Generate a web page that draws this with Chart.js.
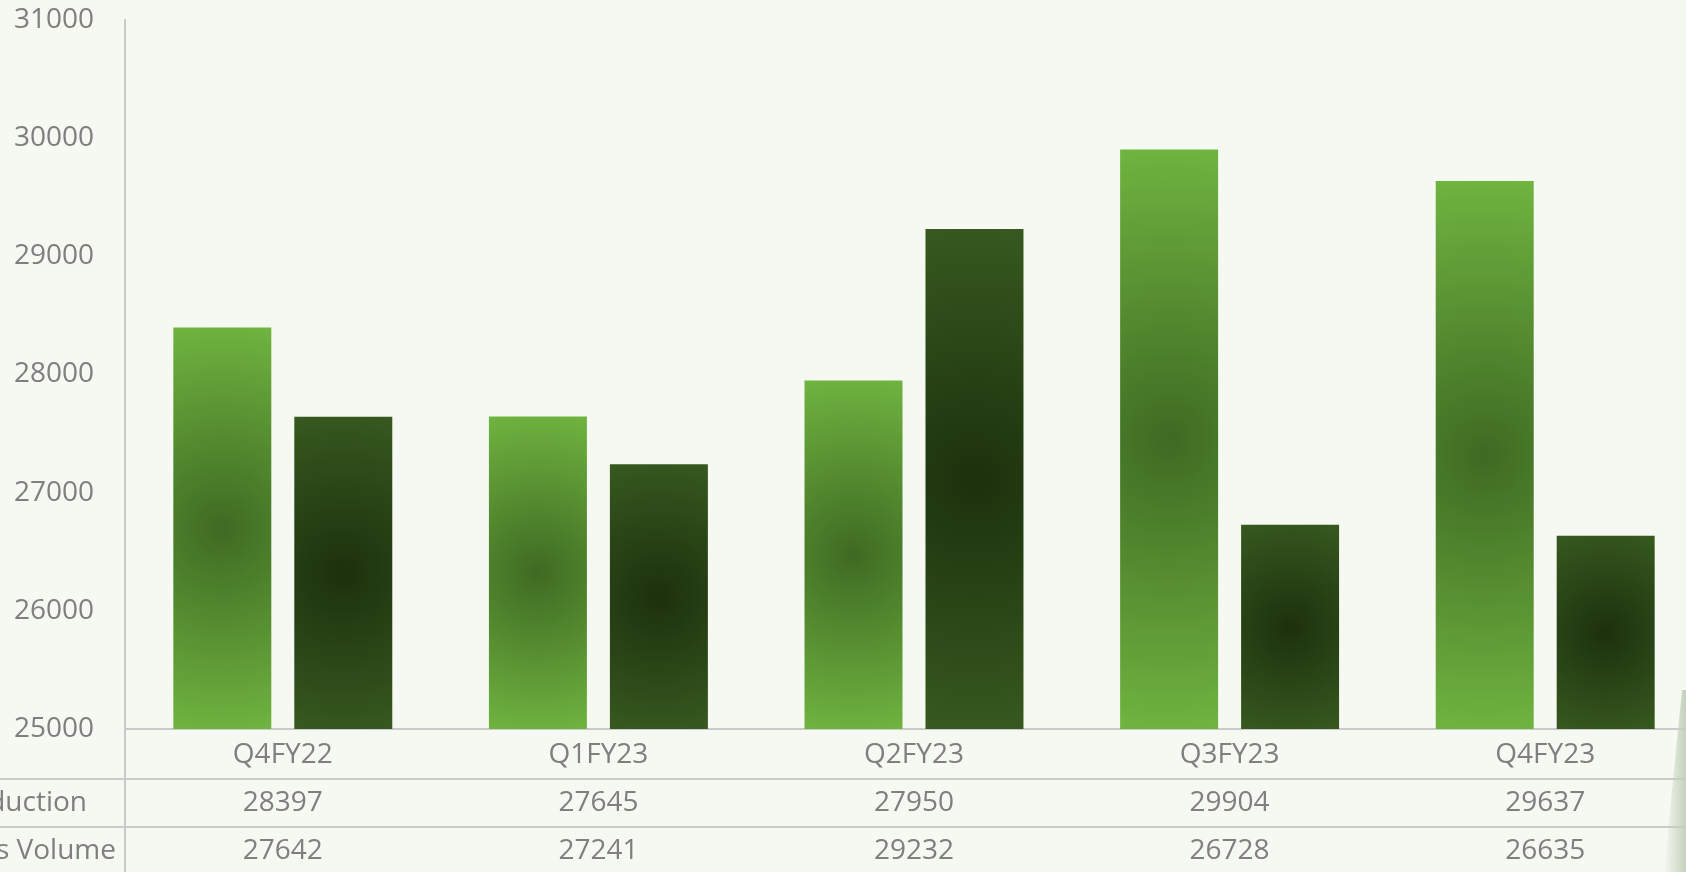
<!DOCTYPE html>
<html>
<head>
<meta charset="utf-8">
<script src="https://cdn.jsdelivr.net/npm/chart.js@4/dist/chart.umd.min.js"></script>
<style>
  html, body { margin: 0; padding: 0; background: #f6f8f2; overflow: hidden; width: 1686px; height: 872px; }
  #wrap { position: absolute; left: 0; top: 0; width: 1720px; height: 872px; }
  canvas { display: block; }
</style>
</head>
<body>
<div id="wrap"><canvas id="c" width="1720" height="872"></canvas></div>
<script>
// ---- data ----
const categories = ['Q4FY22', 'Q1FY23', 'Q2FY23', 'Q3FY23', 'Q4FY23'];
const seriesNames = ['Production', 'Sales Volume'];
const production = [28397, 27645, 27950, 29904, 29637];
const salesVolume = [27642, 27241, 29232, 26728, 26635];
const yMin = 25000;
const yMax = 31000;
const yStep = 1000;

// ---- style ----
const FONT = '"Open Sans", "DejaVu Sans", sans-serif';
const FONT_SIZE = 28;
const TEXT = '#7f7f7f';
const LINE = '#cacaca';
const CAT_PCT = 0.7666;
const BAR_PCT = 0.81;
const barColors = [
  { edge: '#70b440', mid: '#3e6a22' },
  { edge: '#37591f', mid: '#1c310d' }
];

function radialFill(di) {
  return function (c) {
    const col = barColors[di];
    if (c.type !== 'data') return col.edge;
    const chart = c.chart;
    const xs = chart.scales.x, ys = chart.scales.y;
    if (!xs || !ys || !xs.width) return col.edge;
    const catW = xs.width / categories.length;
    const chunk = catW * CAT_PCT / 2;
    const cx = xs.getPixelForValue(c.dataIndex) + (di - 0.5) * chunk;
    const top = ys.getPixelForValue(c.raw);
    const base = ys.getPixelForValue(yMin);
    const cy = (top + base) / 2;
    const w = chunk * BAR_PCT;
    const r = Math.hypot(w / 2, (base - top) / 2);
    const g = chart.ctx.createRadialGradient(cx, cy, 0, cx, cy, r);
    g.addColorStop(0, col.mid);
    g.addColorStop(1, col.edge);
    return g;
  };
}

const tablePlugin = {
  id: 'dataTable',
  afterDraw(chart) {
    const ctx = chart.ctx;
    const xs = chart.scales.x;
    const area = chart.chartArea;
    const W = chart.width, H = chart.height;
    const rowTop = area.bottom;          // category row top
    const row1 = rowTop + 50;            // production row top
    const row2 = row1 + 48;              // sales row top
    ctx.save();
    ctx.strokeStyle = LINE;
    ctx.lineWidth = 2;
    ctx.beginPath();
    ctx.moveTo(0, row1); ctx.lineTo(W, row1);
    ctx.moveTo(0, row2); ctx.lineTo(W, row2);
    ctx.moveTo(area.left, rowTop); ctx.lineTo(area.left, H);
    ctx.stroke();

    ctx.font = FONT_SIZE + 'px ' + FONT;
    ctx.fillStyle = TEXT;
    ctx.textBaseline = 'middle';
    ctx.textAlign = 'center';
    const rows = [production, salesVolume];
    rows.forEach((vals, ri) => {
      const yc = (ri === 0 ? row1 : row2) + 24;
      vals.forEach((v, i) => {
        ctx.fillText(String(v), xs.getPixelForValue(i), yc);
      });
    });
    // row headers (cut off at the page edge)
    ctx.textAlign = 'right';
    ctx.fillText(seriesNames[0], 87, row1 + 24);
    ctx.fillText(seriesNames[1], 116, row2 + 24);

    // soft decoration at the bottom-right edge
    const g = ctx.createLinearGradient(1664, 0, 1686, 0);
    g.addColorStop(0, 'rgba(194,209,186,0)');
    g.addColorStop(1, 'rgba(194,209,186,1)');
    ctx.fillStyle = g;
    ctx.beginPath();
    ctx.moveTo(1682, 690);
    ctx.lineTo(1720, 690);
    ctx.lineTo(1720, H);
    ctx.lineTo(1664, H);
    ctx.closePath();
    ctx.fill();
    ctx.restore();
  }
};

new Chart(document.getElementById('c'), {
  type: 'bar',
  data: {
    labels: categories,
    datasets: [
      { label: seriesNames[0], data: production, backgroundColor: radialFill(0), borderWidth: 0 },
      { label: seriesNames[1], data: salesVolume, backgroundColor: radialFill(1), borderWidth: 0 }
    ]
  },
  options: {
    responsive: false,
    animation: false,
    devicePixelRatio: 1,
    categoryPercentage: CAT_PCT,
    barPercentage: BAR_PCT,
    layout: { padding: { top: 20, right: 17, left: 0, bottom: 0 } },
    plugins: { legend: { display: false }, tooltip: { enabled: false } },
    scales: {
      x: {
        grid: { display: false, drawTicks: false },
        border: { display: true, color: LINE, width: 2 },
        ticks: { color: TEXT, font: { family: FONT, size: FONT_SIZE }, padding: 9, maxRotation: 0 },
        afterFit(s) { s.height = 143; }
      },
      y: {
        min: yMin,
        max: yMax,
        grid: { display: false, drawTicks: true, tickLength: 31 },
        border: { display: true, color: LINE, width: 2 },
        ticks: {
          stepSize: yStep, color: TEXT, font: { family: FONT, size: FONT_SIZE }, padding: 0,
          callback: (v) => String(v)
        },
        afterFit(s) { s.width = 125; s.paddingTop = 0; s.paddingBottom = 0; }
      }
    }
  },
  plugins: [tablePlugin]
});
</script>
</body>
</html>
